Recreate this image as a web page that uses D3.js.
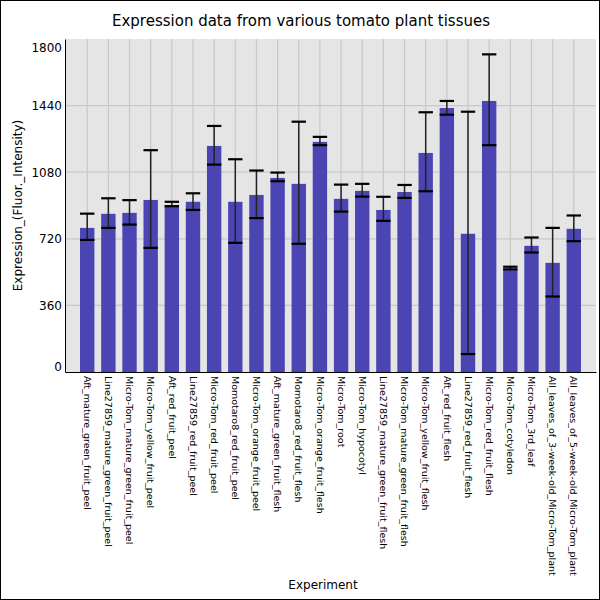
<!DOCTYPE html>
<html>
<head>
<meta charset="utf-8">
<script src="https://cdn.jsdelivr.net/npm/d3@7"></script>
<style>
  body { margin: 0; background: #fff; }
  text { font-family: "DejaVu Sans", sans-serif; }
</style>
</head>
<body>
<svg id="chart"></svg>
<script>
// tissue names, in plot order
const experiments = [
    "Aft_mature_green_fruit_peel",
    "Line27859_mature_green_fruit_peel",
    "Micro-Tom_mature_green_fruit_peel",
    "Micro-Tom_yellow_fruit_peel",
    "Aft_red_fruit_peel",
    "Line27859_red_fruit_peel",
    "Micro-Tom_red_fruit_peel",
    "Momotaro8_red_fruit_peel",
    "Micro-Tom_orange_fruit_peel",
    "Aft_mature_green_fruit_flesh",
    "Momotaro8_red_fruit_flesh",
    "Micro-Tom_orange_fruit_flesh",
    "Micro-Tom_root",
    "Micro-Tom_hypocotyl",
    "Line27859_mature_green_fruit_flesh",
    "Micro-Tom_mature_green_fruit_flesh",
    "Micro-Tom_yellow_fruit_flesh",
    "Aft_red_fruit_flesh",
    "Line27859_red_fruit_flesh",
    "Micro-Tom_red_fruit_flesh",
    "Micro-Tom_cotyledon",
    "Micro-Tom_3rd_leaf",
    "All_leaves_of_3-week-old_Micro-Tom_plant",
    "All_leaves_of_5-week-old_Micro-Tom_plant"
];

// mean expression
const expression = [779, 855, 860, 930, 903, 920, 1222, 920, 957, 1049, 1017, 1244,
                    936, 979, 876, 973, 1184, 1427, 747, 1465, 558, 682, 590, 774];

// error bar ends
const errLow  = [714, 779, 797, 671, 896, 876, 1121, 698, 832, 1031, 693, 1226,
                 867, 948, 817, 941, 977, 1391, 97, 1226, 555, 646, 408, 707];
const errHigh = [856, 939, 929, 1199, 920, 966, 1330, 1150, 1089, 1078, 1353, 1271,
                 1013, 1017, 947, 1011, 1404, 1465, 1407, 1717, 569, 727, 779, 846];

const yTicks = [0, 360, 720, 1080, 1440, 1800];

const data = experiments.map((name, i) => ({
    name: name,
    value: expression[i],
    lo: errLow[i],
    hi: errHigh[i]
}));

const width = 600, height = 600;
const margin = {top: 39, right: 4, bottom: 228, left: 65};
const inner_width = width - margin.left - margin.right;
const inner_height = height - margin.top - margin.bottom;

const svg = d3.select('#chart')
    .attr('width', width)
    .attr('height', height);

// frame around the whole picture
svg.append('rect')
    .attr('x', 0.5).attr('y', 0.5)
    .attr('width', width - 1).attr('height', height - 1)
    .attr('fill', '#fff')
    .attr('stroke', '#000');

const chart = svg.append('g')
    .attr('transform', `translate(${margin.left}, ${margin.top})`);

const xscale = d3.scaleBand()
    .domain(experiments)
    .range([0, inner_width])
    .paddingInner(0.32)
    .paddingOuter(0.71);

const yscale = d3.scaleLinear()
    .domain([0, 1800])
    .range([inner_height, 0]);

chart.append('rect')
    .attr('width', inner_width)
    .attr('height', inner_height)
    .attr('fill', '#e5e5e5');

// grid
chart.append('g')
    .selectAll('line')
    .data(yTicks.filter(d => d > 0 && d < 1800))
    .join('line')
    .attr('x1', 0).attr('x2', inner_width)
    .attr('y1', d => yscale(d)).attr('y2', d => yscale(d))
    .attr('stroke', '#c8c8c8')
    .attr('stroke-width', 1.2);

chart.append('g')
    .selectAll('line')
    .data(experiments)
    .join('line')
    .attr('x1', d => xscale(d) + xscale.bandwidth() / 2)
    .attr('x2', d => xscale(d) + xscale.bandwidth() / 2)
    .attr('y1', 0).attr('y2', inner_height)
    .attr('stroke', '#c8c8c8')
    .attr('stroke-width', 1.2);

// bars
chart.append('g')
    .selectAll('rect')
    .data(data)
    .join('rect')
    .attr('x', d => xscale(d.name))
    .attr('y', d => yscale(d.value))
    .attr('width', xscale.bandwidth())
    .attr('height', d => inner_height - yscale(d.value))
    .attr('fill', '#4a45b3');

// error bars
const err = chart.append('g');
const cx = d => xscale(d.name) + xscale.bandwidth() / 2;
const capw = xscale.bandwidth() / 2;

err.selectAll('line.stem')
    .data(data)
    .join('line')
    .attr('class', 'stem')
    .attr('x1', cx).attr('x2', cx)
    .attr('y1', d => yscale(d.hi)).attr('y2', d => yscale(d.lo))
    .attr('stroke', '#222')
    .attr('stroke-width', 1.5);

err.selectAll('line.caphi')
    .data(data)
    .join('line')
    .attr('class', 'caphi')
    .attr('x1', d => cx(d) - capw).attr('x2', d => cx(d) + capw)
    .attr('y1', d => yscale(d.hi)).attr('y2', d => yscale(d.hi))
    .attr('stroke', '#000')
    .attr('stroke-width', 2.2);

err.selectAll('line.caplo')
    .data(data)
    .join('line')
    .attr('class', 'caplo')
    .attr('x1', d => cx(d) - capw).attr('x2', d => cx(d) + capw)
    .attr('y1', d => yscale(d.lo)).attr('y2', d => yscale(d.lo))
    .attr('stroke', '#000')
    .attr('stroke-width', 2.2);

// axes
const yaxis = d3.axisLeft(yscale)
    .tickValues(yTicks)
    .tickFormat(d3.format('d'))
    .tickSize(0)
    .tickPadding(3);

const yaxis_group = chart.append('g').call(yaxis);
yaxis_group.select('.domain').attr('stroke', '#000');
yaxis_group.selectAll('text')
    .attr('font-family', '"DejaVu Sans", sans-serif')
    .attr('font-size', '12px')
    .attr('fill', '#000')
    // end labels are pulled inside the plot range
    .attr('dy', d => d === 1800 ? '1.05em' : d === 0 ? '-0.1em' : '0.32em');

const xaxis = d3.axisBottom(xscale)
    .tickSize(0)
    .tickSizeOuter(0);

const xaxis_group = chart.append('g')
    .attr('transform', `translate(0, ${inner_height})`)
    .call(xaxis);
xaxis_group.select('.domain').attr('stroke', '#000');
xaxis_group.selectAll('text')
    .attr('font-family', '"DejaVu Sans", sans-serif')
    .attr('font-size', '9.5px')
    .attr('fill', '#000')
    .attr('text-anchor', 'start')
    .attr('transform', 'rotate(90)')
    .attr('x', 4)
    .attr('y', 0)
    .attr('dy', '0.35em');

// labels
svg.append('text')
    .attr('x', 301)
    .attr('y', 26)
    .attr('text-anchor', 'middle')
    .attr('font-size', '15px')
    .text('Expression data from various tomato plant tissues');

svg.append('text')
    .attr('x', -(margin.top + inner_height / 2))
    .attr('y', 22)
    .attr('transform', 'rotate(-90)')
    .attr('text-anchor', 'middle')
    .attr('font-size', '12px')
    .text('Expression_(Fluor._Intensity)');

svg.append('text')
    .attr('x', 323)
    .attr('y', 589)
    .attr('text-anchor', 'middle')
    .attr('font-size', '12px')
    .text('Experiment');
</script>
</body>
</html>
